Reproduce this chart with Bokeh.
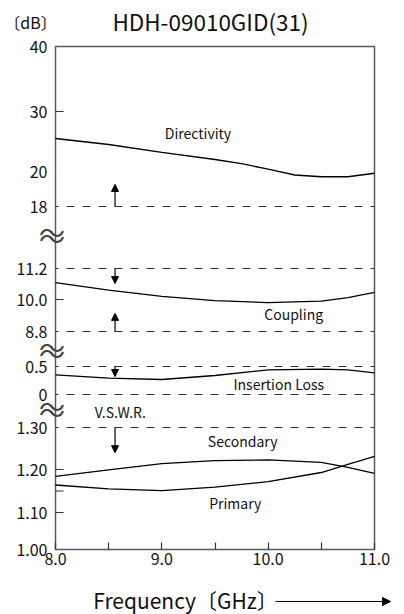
import numpy as np
from bokeh.plotting import figure
from bokeh.models import Range1d, FixedTicker, Arrow, NormalHead
from bokeh.core.properties import value
from bokeh.embed import file_html
from bokeh.resources import INLINE

FONT = "Noto Sans CJK JP"

# ---------------- data ----------------
freq_dir = [8.0, 8.5, 9.0, 9.5, 9.75, 10.0, 10.25, 10.5, 10.75, 11.0]
directivity = [25.5, 24.5, 23.2, 22.0, 21.3, 20.4, 19.8, 19.7, 19.7, 19.9]

freq = [8.0, 8.5, 9.0, 9.5, 10.0, 10.5, 10.75, 11.0]
coupling = [10.65, 10.36, 10.12, 9.96, 9.88, 9.94, 10.07, 10.28]
insertion_loss = [0.352, 0.291, 0.268, 0.339, 0.441, 0.452, 0.441, 0.388]
vswr_secondary = [1.184, 1.199, 1.214, 1.221, 1.223, 1.217, 1.205, 1.191]
vswr_primary = [1.164, 1.155, 1.151, 1.159, 1.172, 1.193, 1.212, 1.231]

# spec limit lines: (section, value)
limit_lines = [("dir", 18), ("cpl", 11.2), ("cpl", 8.8), ("il", 0.5), ("il", 0), ("vswr", 1.30)]
# spec arrows: (section, from, to)
spec_arrows = [("dir", 18, 19.26), ("cpl", 11.2, 10.62), ("cpl", 8.8, 9.48),
               ("il", 0.5, 0.32), ("vswr", 1.30, 1.24)]
arrow_freq = 8.56

F_MIN, F_MAX = 8.0, 11.0
x_ticks = [8.0, 8.5, 9.0, 9.5, 10.0, 10.5, 11.0]
x_labels = ["8.0", "", "9.0", "", "10.0", "", "11.0"]

# ---------------- broken y scale (value -> px above the 1.00 line) ----------------
SCALE = {
    "dir":  ([18, 20, 30, 40], [343, 378, 438, 503], ["18", "20", "30", "40"]),
    "cpl":  ([8.8, 10.0, 11.2], [218, 250, 281], ["8.8", "10.0", "11.2"]),
    "il":   ([0, 0.5], [155, 183], ["0", "0.5"]),
    "vswr": ([1.00, 1.10, 1.20, 1.30], [0, 37, 80, 122], ["1.00", "1.10", "1.20", "1.30"]),
}
Y_BOTTOM, Y_TOP = 0, 503
tick_marks = [("dir", 30), ("cpl", 10.0), ("vswr", 1.20), ("vswr", 1.15), ("vswr", 1.10)]
breaks = [315, 200, 141]


def to_y(sec, vals):
    t, p, _ = SCALE[sec]
    t = np.asarray(t, float); p = np.asarray(p, float)
    v = np.atleast_1d(np.asarray(vals, float))
    out = np.interp(v, t, p)
    lo = v < t[0]; hi = v > t[-1]
    out[lo] = p[0] + (v[lo] - t[0]) * (p[1] - p[0]) / (t[1] - t[0])
    out[hi] = p[-1] + (v[hi] - t[-1]) * (p[-1] - p[-2]) / (t[-1] - t[-2])
    return out


def y1(sec, v):
    return float(to_y(sec, v)[0])


# canvas layout: the frame fills the whole canvas, axes are placed at fixed locations
W, H = 404, 614
LEFT_PX, BOTTOM_PX = 55, 549          # where 8.0 GHz / the 1.00 line sit on the canvas
KX = 319 / (F_MAX - F_MIN)            # px per GHz
def gx(px):                            # canvas px -> GHz
    return F_MIN + (px - LEFT_PX) / KX
def gy(py):                            # canvas px -> y units
    return BOTTOM_PX - py

p = figure(width=W, height=H, output_backend="svg", toolbar_location=None,
           x_range=Range1d(gx(0), gx(W)), y_range=Range1d(gy(H), gy(0)),
           min_border=0)
p.min_border_left = p.min_border_right = p.min_border_top = p.min_border_bottom = 0
p.grid.visible = False
p.outline_line_color = None
p.background_fill_color = "white"
p.border_fill_color = "white"

# y axis (broken scale)
ypos, ylab = [], {}
for sec, (t, pp, labs) in SCALE.items():
    for pv, lb in zip(pp, labs):
        ypos.append(float(pv)); ylab[float(pv)] = lb
ax = p.yaxis[0]
ax.fixed_location = F_MIN
ax.bounds = (Y_BOTTOM, Y_TOP)
ax.ticker = FixedTicker(ticks=ypos)
ax.major_label_overrides = ylab
ax.major_tick_in = 0
ax.major_tick_out = 0
ax.minor_tick_line_color = None
ax.axis_line_color = None
ax.major_label_standoff = 8
ax.major_label_text_font = FONT
ax.major_label_text_font_size = "16px"
ax.major_label_text_color = "#111111"

# x axis
bx = p.xaxis[0]
bx.fixed_location = float(Y_BOTTOM)
bx.bounds = (F_MIN, F_MAX)
bx.ticker = FixedTicker(ticks=x_ticks)
bx.major_label_overrides = {float(t): l for t, l in zip(x_ticks, x_labels)}
bx.major_tick_in = 7
bx.major_tick_out = 0
bx.major_tick_line_color = "#333333"
bx.major_tick_line_width = 1.2
bx.minor_tick_line_color = None
bx.axis_line_color = None
bx.major_label_standoff = 3
bx.major_label_text_font = FONT
bx.major_label_text_font_size = "16px"
bx.major_label_text_color = "#111111"

# chart box
p.quad(left=[F_MIN], right=[F_MAX], bottom=[Y_BOTTOM], top=[Y_TOP],
       fill_color=None, line_color="#5a5a5a", line_width=1.5)

# y tick marks (inward)
ty = [y1(s, v) for s, v in tick_marks]
p.ray(x=[F_MIN] * len(ty), y=ty, length=8, length_units="screen", angle=0,
      line_color="#333333", line_width=1.2)

# limit lines
ly = [y1(s, v) for s, v in limit_lines]
p.segment(x0=[F_MIN] * len(ly), x1=[F_MAX] * len(ly), y0=ly, y1=ly,
          line_color="#333333", line_width=1.2, line_dash="8 8", line_dash_offset=5)

# curves
lw = 1.3
p.line(freq_dir, to_y("dir", directivity), line_color="black", line_width=lw)
p.line(freq, to_y("cpl", coupling), line_color="black", line_width=lw)
p.line(freq, to_y("il", insertion_loss), line_color="black", line_width=lw)
p.line(freq, to_y("vswr", vswr_secondary), line_color="black", line_width=lw)
p.line(freq, to_y("vswr", vswr_primary), line_color="black", line_width=lw)

# spec arrows
for sec, a, b in spec_arrows:
    p.add_layout(Arrow(x_start=arrow_freq, x_end=arrow_freq,
                       y_start=y1(sec, a), y_end=y1(sec, b),
                       line_color="black", line_width=1.2,
                       end=NormalHead(size=7, fill_color="black", line_color="black")))

# curve names
names = ["Directivity", "Coupling", "Insertion Loss", "V.S.W.R.", "Secondary", "Primary"]
name_x = [9.34, 10.24, 10.10, 8.61, 9.76, 9.69]
name_y = [y1("dir", 26.4), y1("cpl", 9.475), y1("il", 0.179),
          y1("vswr", 1.336), y1("vswr", 1.267), y1("vswr", 1.121)]
p.text(x=name_x, y=name_y, text=names, text_font=value(FONT), text_font_size="14px",
       text_align="center", text_baseline="middle", text_color="#111111")

# axis break marks: two wave dashes stacked
bxs = [gx(LEFT_PX - 3.5)] * (2 * len(breaks))
bys = [b + d for b in breaks for d in (3.2, -3.2)]
p.text(x=bxs, y=bys, text=["〜"] * len(bys),
       text_font=value(FONT), text_font_size="26px",
       text_align="center", text_baseline="middle", text_color="#444444")

# title, unit label and x-axis title
p.text(x=[gx(210)], y=[gy(20)], text=["HDH-09010GID(31)"], text_font=value(FONT),
       text_font_size="22.5px", text_align="center", text_baseline="middle", text_color="#111111")
p.text(x=[gx(30)], y=[gy(21)], text=["〔dB〕"], text_font=value(FONT),
       text_font_size="16px", text_align="center", text_baseline="middle", text_color="#111111")
p.text(x=[gx(185)], y=[gy(599)], text=["Frequency〔GHz〕"], text_font=value(FONT),
       text_font_size="21px", text_align="center", text_baseline="middle", text_color="#111111")
p.add_layout(Arrow(x_start=gx(275), x_end=gx(390), y_start=gy(601), y_end=gy(601),
                   line_color="black", line_width=1.2,
                   end=NormalHead(size=8, fill_color="black", line_color="black")))

open("out.html", "w").write(file_html(p, INLINE))
